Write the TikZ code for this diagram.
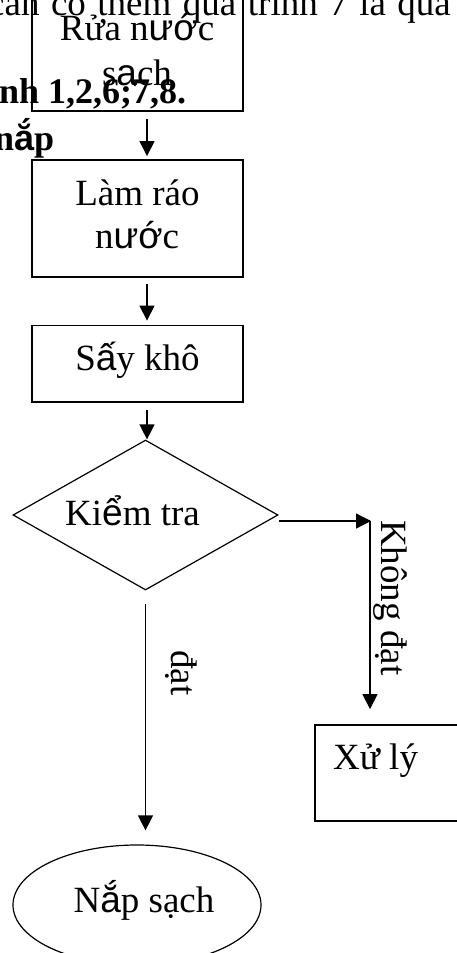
\documentclass[tikz,border=0pt]{standalone}
\usepackage{fontspec}
\setmainfont{Liberation Serif}
% a few accented letters come out in a sans face
\newfontfamily\vnsans{Liberation Sans}
\newcommand{\sg}[1]{{\vnsans #1}}
\usetikzlibrary{shapes.geometric,arrows.meta}
\begin{document}
\begin{tikzpicture}[x=1pt,y=-1pt,
  font=\fontsize{37}{44}\selectfont,
  box/.style={draw, line width=1.8pt, rectangle, inner sep=0pt},
  txt/.style={inner sep=0pt, anchor=base},
  boldtxt/.style={txt, anchor=base west, font=\fontsize{36}{44}\selectfont\bfseries},
  vtxt/.style={txt, anchor=base west, rotate=-90},
  arr/.style={line width=1.2pt, -{Triangle[width=15pt,length=15pt]}},
  thin/.style={draw, line width=1.2pt, inner sep=0pt}]

\fill[white] (0,0) rectangle (457,953);
\useasboundingbox (0,0) rectangle (457,953);

% running text of the page (justified line, wider spaces)
\node[txt, anchor=base west] (intro) at (-12,15)
  {\spaceskip=11.5pt cần có thêm quá trình 7 là quá};

% process boxes
\node[box, minimum width=211pt, minimum height=131pt] (wash) at (137.5,45.5) {};
\node[txt] (washA) at (137,40) {Rửa n\sg{ướ}c};
\node[txt] (washB) at (137,85) {s\sg{ạ}ch};

\node[boldtxt] (steps) at (-1,103) {nh 1,2,6;7,8.};
\node[boldtxt] (lid) at (-6,150) {n\sg{ắ}p};

\node[box, minimum width=211pt, minimum height=117pt] (drain) at (137.5,218.5) {};
\node[txt] (drainA) at (137.5,205) {Làm ráo};
\node[txt] (drainB) at (137,248) {n\sg{ướ}c};

\node[box, minimum width=211pt, minimum height=76.5pt] (dry) at (137.5,363.75) {};
\node[txt] (dryA) at (137.5,370) {S\sg{ấ}y khô};

% decision
\node[diamond, thin, minimum width=265pt, minimum height=150pt] (check) at (145.5,515) {};
\node[txt] (checkA) at (132.5,525) {Ki\sg{ể}m tra};

% outcomes
\node[box, minimum width=170pt, minimum height=96pt] (fix) at (400,773) {};
\node[txt, anchor=base west] (fixA) at (333,769) {Xử lý};

\node[ellipse, thin, minimum width=248pt, minimum height=120pt] (done) at (137,905) {};
\node[txt] (doneA) at (144,912) {N\sg{ắ}p sạch};

\node[vtxt] (failA) at (381,520) {Không đạt};
\node[vtxt] (passA) at (171,650) {đạt};

% connectors
\draw[arr] ([xshift=9.5pt,yshift=-7pt]wash.south) -- ([xshift=9.5pt,yshift=3pt]drain.north);
\draw[arr] ([xshift=9.5pt,yshift=-6pt]drain.south) -- ([xshift=9.5pt,yshift=4pt]dry.north);
\draw[arr] ([xshift=9.5pt,yshift=-7pt]dry.south) -- ([xshift=1.5pt]check.north);
\coordinate (bend) at (371,521);
\draw[arr] (check.east |- bend) -- (bend);
\draw[arr, shorten >=15pt] ([xshift=-1pt]bend) -- ([xshift=-1pt]bend |- fix.north);
\draw[arr, shorten >=14pt] ([yshift=-13pt]check.south) -- (check.south |- done.north);
\end{tikzpicture}
\end{document}
